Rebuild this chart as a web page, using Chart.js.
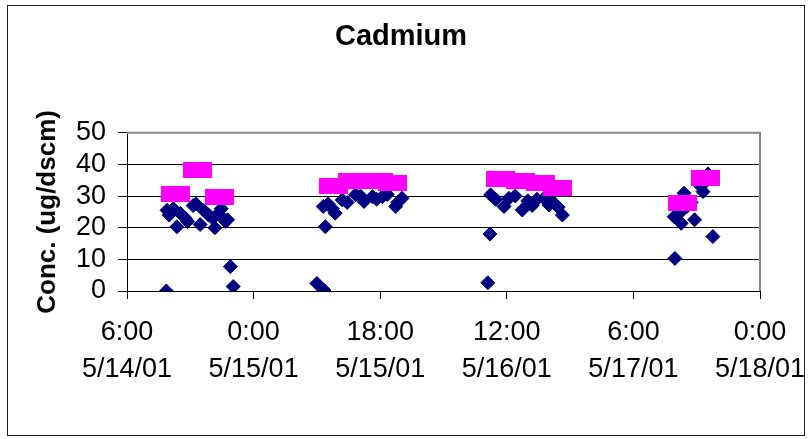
<!DOCTYPE html>
<html>
<head>
<meta charset="utf-8">
<script src="https://cdn.jsdelivr.net/npm/chart.js@4"></script>
<style>
  html, body { margin: 0; padding: 0; background: #fff; }
  #wrap { width: 812px; height: 439px; }
</style>
</head>
<body>
<div id="wrap"><canvas id="chart" width="812" height="439"></canvas></div>
<script>
// x axis: hours after 5/14/01 6:00, labelled every 18 h
var xTickTimes = ["6:00", "0:00", "18:00", "12:00", "6:00", "0:00"];
var xTickDates = ["5/14/01", "5/15/01", "5/15/01", "5/16/01", "5/17/01", "5/18/01"];

// individual measurements
var runTimes = [
    "5/14 11:36", "5/14 11:42", "5/14 12:00", "5/14 12:36", "5/14 13:06", "5/14 13:36",
    "5/14 14:18", "5/14 14:36", "5/14 15:24", "5/14 15:48", "5/14 16:24", "5/14 16:54",
    "5/14 17:36", "5/14 18:12", "5/14 18:30", "5/14 19:00", "5/14 19:24", "5/14 20:00",
    "5/14 20:18", "5/14 20:42", "5/14 21:06",
    "5/15 9:00", "5/15 10:00", "5/15 10:12", "5/15 9:54", "5/15 10:36", "5/15 11:12",
    "5/15 11:36", "5/15 12:36", "5/15 13:18", "5/15 14:30", "5/15 15:12", "5/15 15:42",
    "5/15 16:54", "5/15 17:30", "5/15 18:18", "5/15 19:00", "5/15 20:12", "5/15 20:30",
    "5/15 21:06",
    "5/16 9:18", "5/16 9:36", "5/16 9:42", "5/16 10:24", "5/16 11:36", "5/16 12:18",
    "5/16 13:12", "5/16 14:12", "5/16 15:00", "5/16 15:36", "5/16 16:18", "5/16 17:18",
    "5/16 18:00", "5/16 18:36", "5/16 19:18", "5/16 19:54",
    "5/17 11:48", "5/17 11:54", "5/17 12:30", "5/17 12:48", "5/17 13:12", "5/17 13:36",
    "5/17 14:12", "5/17 14:42", "5/17 15:36", "5/17 15:54", "5/17 16:36", "5/17 17:18"
];
var runValues = [
    0, 25.5, 24, 26, 20.3, 24.5,
    23, 22, 27, 27.5, 21, 25.5,
    24, 23, 20, 24.5, 26, 22,
    22.5, 7.7, 1.4,
    2.4, 0.3, 20.3, 26.7, 27.5, 26,
    24.6, 28.8, 28, 30.4, 30, 28.3,
    29.8, 29, 29.8, 30.5, 26.7, 28,
    29.3,
    2.6, 18, 30.4, 29, 26.7, 29.3,
    30, 25.6, 28.5, 27, 29, 29.3,
    27.2, 28, 26.5, 24,
    23.5, 10.3, 24.5, 21.4, 30.9, 26.7,
    28, 22.5, 33, 31.4, 37, 17.2
];

// averages
var avgTimes = [
    "5/14 12:50", "5/14 16:04", "5/14 19:09",
    "5/15 11:18", "5/15 14:03", "5/15 15:54", "5/15 17:45", "5/15 19:45",
    "5/16 11:06", "5/16 14:00", "5/16 16:48", "5/16 19:15",
    "5/17 13:00", "5/17 16:18"
];
var avgValues = [
    30.7, 38.3, 29.8,
    33.2, 34.8, 34.9, 34.9, 34.2,
    35.4, 34.8, 34.0, 32.6,
    27.7, 35.7
];

function hoursFrom(s) {
    var parts = s.split(" ");
    var day = Number(parts[0].split("/")[1]);
    var hm = parts[1].split(":").map(Number);
    return (day - 14) * 24 + hm[0] + hm[1] / 60 - 6;
}

function toPoints(times, values) {
    return times.map(function (t, i) {
        return { x: hoursFrom(t), y: values[i] };
    });
}

// wide magenta marker
var avgMarker = document.createElement("canvas");
avgMarker.width = 29;
avgMarker.height = 16;
var mctx = avgMarker.getContext("2d");
mctx.fillStyle = "#ff00ff";
mctx.fillRect(0, 0, 29, 16);

var frame = {
    id: "frame",
    beforeDatasetsDraw: function (chart) {
        var ctx = chart.ctx, a = chart.chartArea;
        ctx.save();
        ctx.strokeStyle = "#888888";
        ctx.lineWidth = 2;
        ctx.beginPath();
        ctx.moveTo(a.left, a.top);
        ctx.lineTo(a.right, a.top);
        ctx.lineTo(a.right, a.bottom);
        ctx.stroke();
        ctx.restore();
    },
    afterDraw: function (chart) {
        var ctx = chart.ctx;
        ctx.save();
        ctx.strokeStyle = "#222";
        ctx.lineWidth = 1;
        ctx.strokeRect(7.5, 5.5, 797, 430);
        ctx.restore();
    }
};

var fontFamily = "'Liberation Sans', Arial, sans-serif";

var ctx = document.getElementById("chart").getContext("2d");

var config = {
    type: "scatter",
    data: {
        datasets: [
            {
                label: "Average",
                data: toPoints(avgTimes, avgValues),
                pointStyle: avgMarker,
                backgroundColor: "#ff00ff",
                borderColor: "#ff00ff",
            },
            {
                label: "Cadmium",
                data: toPoints(runTimes, runValues),
                pointStyle: "rectRot",
                pointRadius: 7,
                backgroundColor: "#000080",
                borderColor: "#000080",
                borderWidth: 1,
            },
        ],
    },
    options: {
        responsive: false,
        animation: false,
        events: [],
        layout: { padding: { left: 0, right: 10, top: 0, bottom: 0 } },
        plugins: {
            legend: { display: false },
            tooltip: { enabled: false },
            title: {
                display: true,
                text: "Cadmium",
                color: "#000",
                font: { family: fontFamily, size: 29, weight: "bold", lineHeight: 1.2 },
                padding: { top: 20, bottom: 78 },
            },
        },
        scales: {
            x: {
                type: "linear",
                min: 0,
                max: 90,
                afterFit: function (scale) {
                    scale.height = 148;
                    scale.paddingLeft = 0;
                    scale.paddingRight = 52;
                },
                afterBuildTicks: function (scale) {
                    scale.ticks = xTickTimes.map(function (t, i) { return { value: i * 18 }; });
                },
                ticks: {
                    autoSkip: false,
                    maxRotation: 0,
                    padding: 15,
                    color: "#000",
                    font: { family: fontFamily, size: 27, lineHeight: 1.37 },
                    callback: function (value, index) {
                        return [xTickTimes[index], xTickDates[index]];
                    },
                },
                grid: {
                    drawOnChartArea: false,
                    drawTicks: true,
                    tickLength: 8,
                    color: "#000",
                },
                border: { display: true, color: "#000", width: 1 },
            },
            y: {
                min: 0,
                max: 50,
                afterFit: function (scale) {
                    scale.width = 127;
                    scale.paddingTop = 0;
                    scale.paddingBottom = 0;
                },
                ticks: {
                    stepSize: 10,
                    autoSkip: false,
                    padding: 12,
                    color: "#000",
                    font: { family: fontFamily, size: 27 },
                },
                grid: {
                    color: "#000",
                    tickLength: 9,
                },
                border: { display: true, color: "#000", width: 1 },
                title: {
                    display: true,
                    text: "Conc. (ug/dscm)",
                    color: "#000",
                    font: { family: fontFamily, size: 26, weight: "bold", lineHeight: 1.2 },
                    padding: { top: 32, bottom: 0 },
                },
            },
        },
    },
    plugins: [frame],
};

var cadmiumChart = new Chart(ctx, config);
</script>
</body>
</html>
